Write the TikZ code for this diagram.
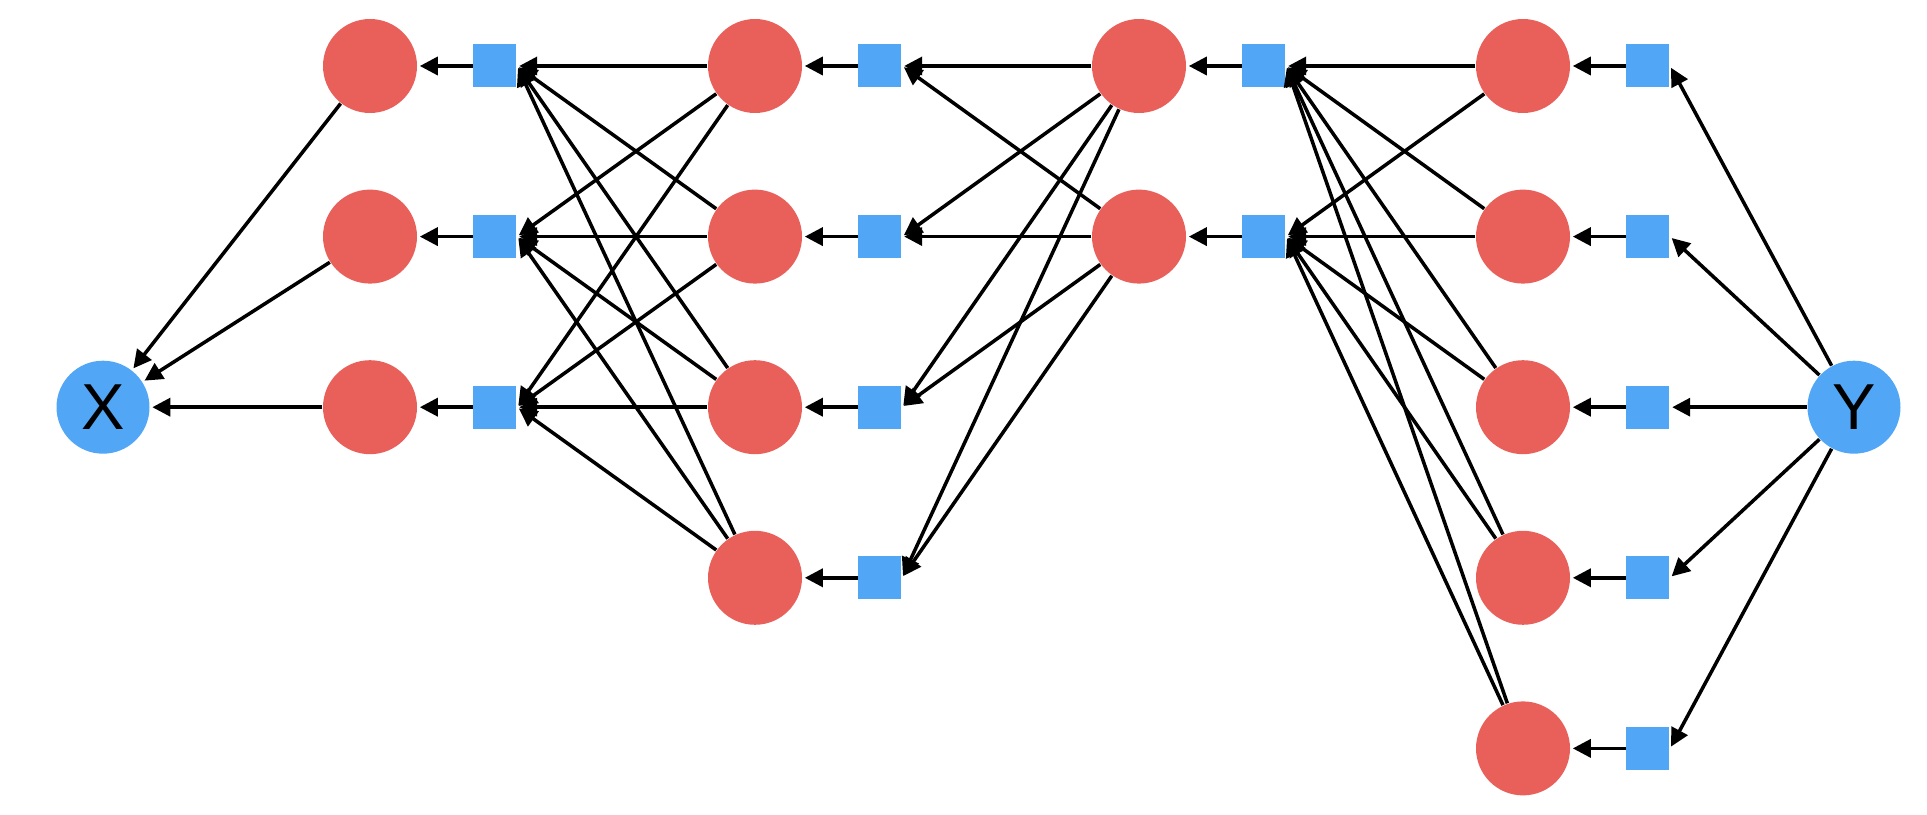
\documentclass[tikz,border=0pt]{standalone}
\usepackage{fontspec}
\setsansfont{Liberation Sans}
\usetikzlibrary{positioning, arrows.meta}
\definecolor{unitRed}{HTML}{E9605A}
\definecolor{varBlue}{HTML}{52A6F6}

\begin{document}
\begin{tikzpicture}[
      var/.style={circle, fill=varBlue, minimum size=0.93cm, inner sep=0pt,
                  font=\sffamily\fontsize{18.5}{20}\selectfont},
      unit/.style={circle, fill=unitRed, minimum size=0.94cm, inner sep=0pt},
      gate/.style={rectangle, fill=varBlue, minimum width=0.43cm, minimum height=0.43cm, inner sep=0pt},
      arr/.style={-{Triangle[length=0.18cm, width=0.18cm]}, line width=1pt, shorten >=0.6pt}]
    \useasboundingbox (0,0) rectangle (19.27,-8.15);

    % end points
    \node[var] (x) at (1.03,-4.072) {X};
    \node[var] (y) at (18.54,-4.072) {Y};

    % four layers of units, each with its gate on the right
    \foreach \i/\h in {1/-0.66, 2/-2.366, 3/-4.072} {
      \node[unit] (a\i) at (3.70,\h) {};
      \node[gate, right=0.55cm of a\i] (ga\i) {};
    }
    \foreach \i/\h in {1/-0.66, 2/-2.366, 3/-4.072, 4/-5.778} {
      \node[unit] (b\i) at (7.55,\h) {};
      \node[gate, right=0.55cm of b\i] (gb\i) {};
    }
    \foreach \i/\h in {1/-0.66, 2/-2.366} {
      \node[unit] (c\i) at (11.39,\h) {};
      \node[gate, right=0.55cm of c\i] (gc\i) {};
    }
    \foreach \i/\h in {1/-0.66, 2/-2.366, 3/-4.072, 4/-5.778, 5/-7.484} {
      \node[unit] (d\i) at (15.23,\h) {};
      \node[gate, right=0.55cm of d\i] (gd\i) {};
    }

    % connections
    \foreach \i in {1,2,3} {
      \draw[arr] (a\i) -- (x);
      \draw[arr] (ga\i) -- (a\i);
    }
    \foreach \j in {1,...,4} {
      \draw[arr] (gb\j) -- (b\j);
      \foreach \i in {1,2,3}
        \draw[arr] (b\j) -- (ga\i.east);
    }
    \foreach \k in {1,2} {
      \draw[arr] (gc\k) -- (c\k);
      \foreach \j in {1,...,4}
        \draw[arr] (c\k) -- (gb\j.east);
    }
    \foreach \m in {1,...,5} {
      \draw[arr] (gd\m) -- (d\m);
      \draw[arr] (y) -- (gd\m.east);
      \foreach \k in {1,2}
        \draw[arr] (d\m) -- (gc\k.east);
    }
  \end{tikzpicture}
\end{document}
